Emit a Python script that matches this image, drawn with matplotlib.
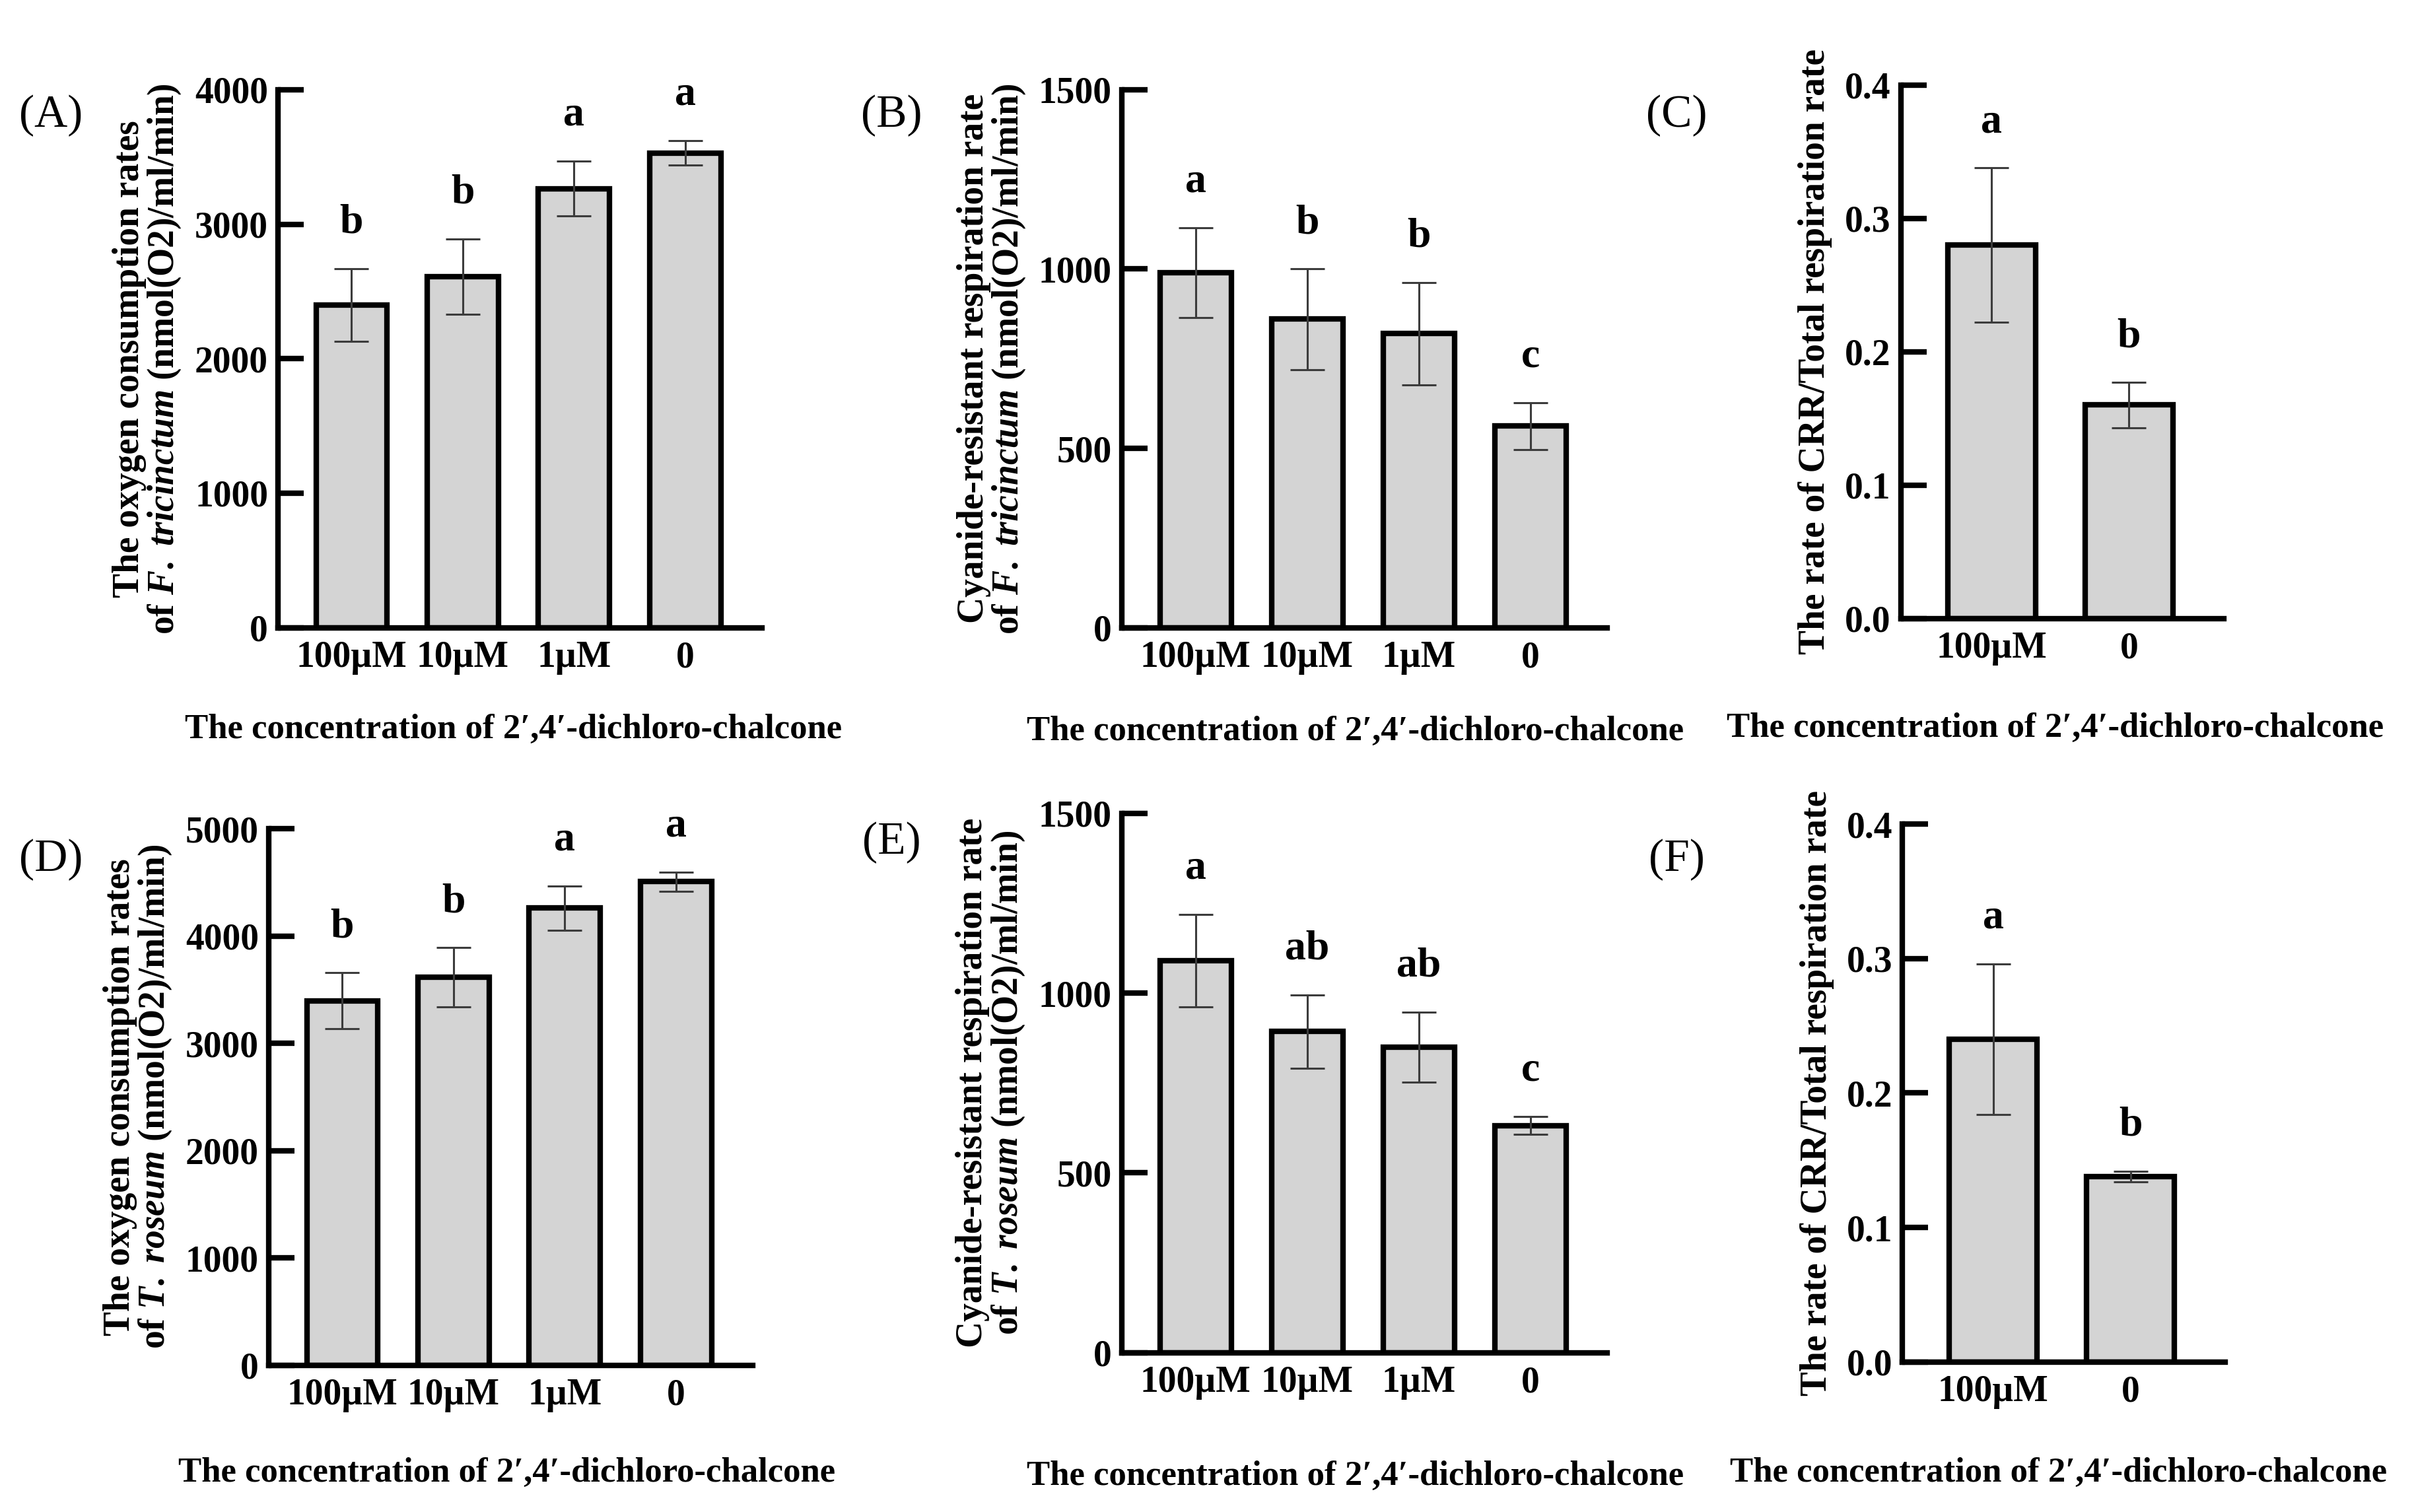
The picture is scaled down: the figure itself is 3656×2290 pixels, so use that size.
import matplotlib
matplotlib.use("Agg")
import matplotlib.pyplot as plt

plt.rcParams['font.family'] = ['Liberation Serif', 'DejaVu Serif']
plt.rcParams['font.weight'] = 'bold'
plt.rcParams['mathtext.fontset'] = 'custom'
plt.rcParams['mathtext.it'] = 'Liberation Serif:italic:bold'
plt.rcParams['mathtext.rm'] = 'Liberation Serif:bold'

# data
conc4 = ['100\u00b5M', '10\u00b5M', '1\u00b5M', '0']
conc2 = ['100\u00b5M', '0']

a_mean = [2400, 2610, 3265, 3530]
a_err = [270, 280, 205, 92]
a_sig = ['b', 'b', 'a', 'a']

b_mean = [990, 860, 820, 562]
b_err = [125, 140, 143, 65]
b_sig = ['a', 'b', 'b', 'c']

c_mean = [0.28, 0.16]
c_err = [0.058, 0.017]
c_sig = ['a', 'b']

d_mean = [3395, 3615, 4260, 4505]
d_err = [262, 275, 205, 92]
d_sig = ['b', 'b', 'a', 'a']

e_mean = [1090, 893, 850, 632]
e_err = [128, 102, 97, 25]
e_sig = ['a', 'ab', 'ab', 'c']

f_mean = [0.24, 0.138]
f_err = [0.056, 0.004]
f_sig = ['a', 'b']

xlab = 'The concentration of 2\u2032,4\u2032-dichloro-chalcone'

W, H = 1562.0, 978.0
fig = plt.figure(figsize=(36.56, 22.90), dpi=100)


def panel(box, cats, mean, err, sig, ymax, step, ylabel, ylx, fmt):
    l, t, r, b = box
    ax = fig.add_axes([l / W, 1 - b / H, (r - l) / W, (b - t) / H])
    x = list(range(len(cats)))
    ax.bar(x, mean, width=0.64, color='#d4d4d4', edgecolor='black',
           linewidth=6, zorder=2)
    ax.errorbar(x, mean, yerr=err, fmt='none', ecolor='#3c3c3c',
                elinewidth=2.2, capsize=19, capthick=2.2, zorder=3)
    for xi, m, e, s in zip(x, mean, err, sig):
        ax.text(xi, m + e + 0.085 * ymax, s, ha='center', va='center',
                fontsize=46, fontweight='bold')
    ax.set_xlim(-0.66, len(cats) - 1 + 0.69)
    ax.set_ylim(0, ymax)
    ticks = [i * step for i in range(int(round(ymax / step)) + 1)]
    ax.set_yticks(ticks)
    ax.set_yticklabels([fmt.format(v) for v in ticks])
    ax.set_xticks(x)
    ax.set_xticklabels(cats)
    for sp in ['top', 'right']:
        ax.spines[sp].set_visible(False)
    for sp in ['left', 'bottom']:
        ax.spines[sp].set_linewidth(6)
    ax.tick_params(axis='y', direction='in', length=28, width=6,
                   labelsize=40, pad=11)
    ax.tick_params(axis='x', direction='in', length=30, width=4.5,
                   labelsize=40, pad=14)
    for lb in ax.get_xticklabels() + ax.get_yticklabels():
        lb.set_fontweight('bold')
    ax.text(ylx, 0.5, ylabel, transform=ax.transAxes, rotation=90,
            ha='center', va='center', multialignment='center',
            fontsize=40, fontweight='bold', linespacing=1.0)
    return ax


panel((180, 58, 493, 406), conc4, a_mean, a_err, a_sig, 4000, 1000,
      'The oxygen consumption rates\nof $\\mathit{F.\\ tricinctum}$ (nmol(O2)/ml/min)',
      -0.27, '{:.0f}')
panel((726, 58, 1040, 406), conc4, b_mean, b_err, b_sig, 1500, 500,
      'Cyanide-resistant respiration rate\nof $\\mathit{F.\\ tricinctum}$ (nmol(O2)/ml/min)',
      -0.268, '{:.0f}')
panel((1230, 55, 1439, 400), conc2, c_mean, c_err, c_sig, 0.4, 0.1,
      'The rate of CRR/Total respiration rate',
      -0.265, '{:.1f}')
panel((174, 536, 487, 883), conc4, d_mean, d_err, d_sig, 5000, 1000,
      'The oxygen consumption rates\nof $\\mathit{T.\\ roseum}$ (nmol(O2)/ml/min)',
      -0.27, '{:.0f}')
panel((726, 526, 1040, 875), conc4, e_mean, e_err, e_sig, 1500, 500,
      'Cyanide-resistant respiration rate\nof $\\mathit{T.\\ roseum}$ (nmol(O2)/ml/min)',
      -0.27, '{:.0f}')
panel((1231, 533, 1440, 881), conc2, f_mean, f_err, f_sig, 0.4, 0.1,
      'The rate of CRR/Total respiration rate',
      -0.265, '{:.1f}')

# panel tags
tags = ['(A)', '(B)', '(C)', '(D)', '(E)', '(F)']
tag_xy = [(33, 75), (577, 75), (1085, 75), (33, 556), (577, 545), (1085, 556)]
for tg, (tx, ty) in zip(tags, tag_xy):
    fig.text(tx / W, 1 - ty / H, tg, fontsize=50, fontweight='normal',
             ha='center', va='center')

for cx, cy in [(332, 472), (877, 473), (1330, 471),
               (328, 953), (877, 955), (1332, 953)]:
    fig.text(cx / W, 1 - cy / H, xlab, fontsize=38, fontweight='bold',
             ha='center', va='center')

fig.savefig('out.png', dpi=100, facecolor='white')
